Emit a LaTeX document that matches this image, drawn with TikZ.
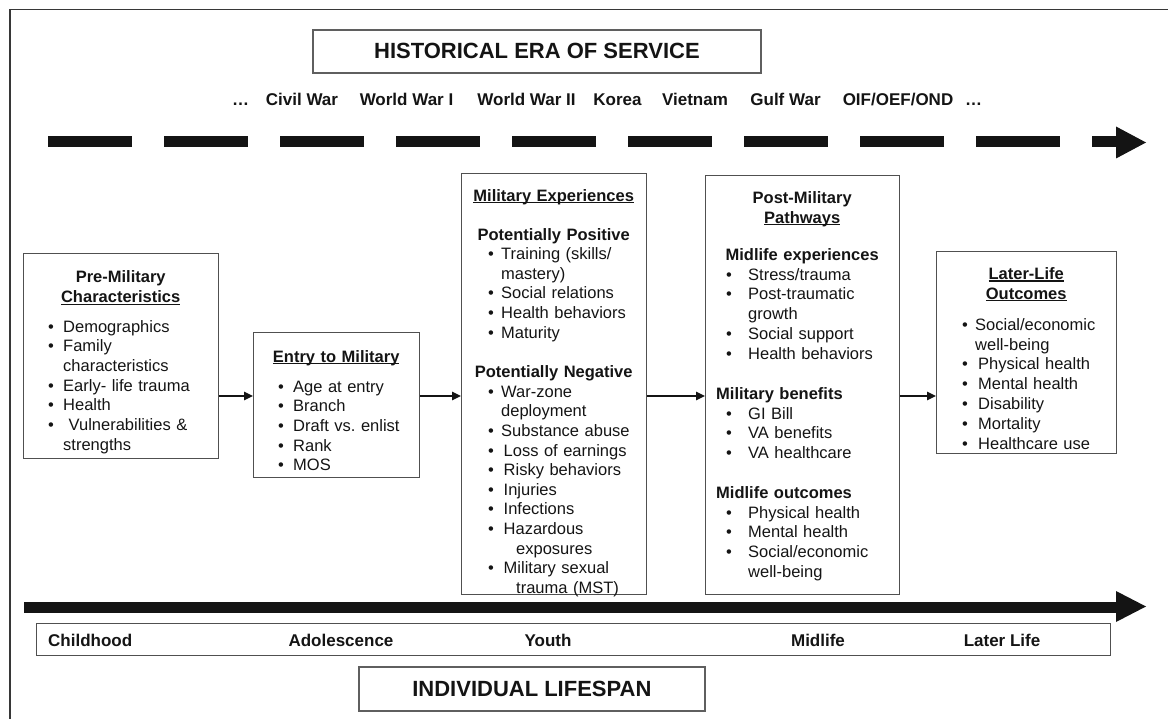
\documentclass[tikz,border=0pt]{standalone}
\usepackage{fontspec}
\setmainfont{Liberation Sans}
\usetikzlibrary{arrows.meta}
\definecolor{edge}{RGB}{80,80,80}
\definecolor{ink}{RGB}{20,20,20}
\definecolor{tgray}{RGB}{95,95,95}
\frenchspacing
\newcommand\myul[1]{\setbox0=\hbox{#1}\rlap{\rule[-2.4pt]{\wd0}{1.1pt}}\box0}
\newcommand\HL[1]{\par\noindent\makebox[\hsize]{\textbf{#1}\strut}}
\newcommand\HU[1]{\par\noindent\makebox[\hsize]{\textbf{\myul{#1}}\strut}}
\newcommand\BI[3]{\par\noindent\hspace*{#1pt}\makebox[#2pt][l]{\textbullet}#3\strut}
\newcommand\CL[2]{\par\noindent\hspace*{#1pt}#2\strut}
\newcommand\GAP[1]{\par\vspace{#1pt}}
\tikzset{
  boxst/.style={draw=edge, line width=1.3pt, anchor=north west, inner sep=0pt},
  txt/.style={anchor=north west, inner sep=0pt, text=ink},
  conn/.style={draw=ink, line width=1.3pt, -{Triangle[length=9pt,width=8.5pt]}},
  era/.style={font=\bfseries\fontsize{17}{20}\selectfont, anchor=base, inner sep=0pt, text=ink},
  titlebox/.style={draw=tgray, line width=1.8pt, anchor=north west, inner sep=0pt, text=ink, font=\bfseries\fontsize{22}{26}\selectfont},
  thick arrow/.style={draw=ink, line width=11pt},
}
\begin{document}
\begin{tikzpicture}[x=1pt,y=-1pt]
\useasboundingbox (0,0) rectangle (1168,719);
% outer frame (right and bottom edges lie outside the picture)
\draw[draw=ink!85, line width=1.5pt] (10,719) -- (10,9.5) -- (1168,9.5);

% historical era
\node[titlebox, minimum width=448pt, minimum height=43pt] (hist) at (312,29) {HISTORICAL ERA OF SERVICE};
\node[era] (e0) at (240.5,106) {…};
\node[era] (e1) at (302,106) {Civil War};
\node[era] (e2) at (406.5,106) {World War I};
\node[era] (e3) at (526.5,106) {World War II};
\node[era] (e4) at (617.5,106) {Korea};
\node[era] (e5) at (695,106) {Vietnam};
\node[era] (e6) at (785.5,106) {Gulf War};
\node[era] (e7) at (898,106) {OIF/OEF/OND};
\node[era] (e8) at (973.5,106) {…};
\coordinate (dstart) at (48,142);
\coordinate (dend) at (1116,142);
\coordinate (dtip) at (1146,142.5);
\draw[thick arrow, dash pattern=on 84pt off 32pt] (dstart) -- (dend);
\fill[ink] (1116,126.5) -- (dtip) -- (1116,158.5) -- cycle;

% boxes
\node[boxst, minimum width=195pt, minimum height=205pt] (pre) at (23,253) {};
\node[txt, text width=195pt, font=\fontsize{16.5}{19.7}\selectfont] (preT) at (23,262.7) {%
\HL{Pre-Military}%
\HU{Characteristics}%
\GAP{10.1}%
\BI{25}{15}{Demographics}%
\BI{25}{15}{Family}%
\CL{40}{characteristics}%
\BI{25}{15}{Early- life trauma}%
\BI{25}{15}{Health}%
\BI{25}{15}{\ Vulnerabilities \&}%
\CL{40}{strengths}};

\node[boxst, minimum width=166pt, minimum height=145pt] (entry) at (253,332) {};
\node[txt, text width=166pt, font=\fontsize{16.5}{19.7}\selectfont] (entryT) at (253,342.2) {%
\HU{Entry to Military}%
\GAP{10.3}%
\BI{25}{15}{Age at entry}%
\BI{25}{15}{Branch}%
\BI{25}{15}{Draft vs.\ enlist}%
\BI{25}{15}{Rank}%
\BI{25}{15}{MOS}};

\node[boxst, minimum width=185pt, minimum height=421pt] (milexp) at (461,173) {};
\node[txt, text width=185pt, font=\fontsize{16.5}{19.6}\selectfont] (milexpT) at (461,181.3) {%
\HU{Military Experiences}%
\GAP{19.4}%
\HL{Potentially Positive}%
\BI{27}{13}{Training (skills/}%
\CL{40}{mastery)}%
\BI{27}{13}{Social relations}%
\BI{27}{13}{Health behaviors}%
\BI{27}{13}{Maturity}%
\GAP{20}%
\HL{Potentially Negative}%
\BI{27}{13}{War-zone}%
\CL{40}{deployment}%
\BI{27}{13}{Substance abuse}%
\BI{27}{15.5}{Loss of earnings}%
\BI{27}{15.5}{Risky behaviors}%
\BI{27}{15.5}{Injuries}%
\BI{27}{15.5}{Infections}%
\BI{27}{15.5}{Hazardous}%
\CL{55}{exposures}%
\BI{27}{15.5}{Military sexual}%
\CL{55}{trauma (MST)}};

\node[boxst, minimum width=194pt, minimum height=419pt] (post) at (705,175) {};
\node[txt, text width=194pt, font=\fontsize{16.5}{19.9}\selectfont] (postT) at (705,183.1) {%
\HL{Post-Military}%
\HU{Pathways}%
\GAP{17.2}%
\HL{Midlife experiences}%
\BI{21}{22}{Stress/trauma}%
\BI{21}{22}{Post-traumatic}%
\CL{43}{growth}%
\BI{21}{22}{Social support}%
\BI{21}{22}{Health behaviors}%
\GAP{19.6}%
\CL{11}{\textbf{Military benefits}}%
\BI{21}{22}{GI Bill}%
\BI{21}{22}{VA benefits}%
\BI{21}{22}{VA healthcare}%
\GAP{19.4}%
\CL{11}{\textbf{Midlife outcomes}}%
\BI{21}{22}{Physical health}%
\BI{21}{22}{Mental health}%
\BI{21}{22}{Social/economic}%
\CL{43}{well-being}};

\node[boxst, minimum width=180pt, minimum height=202pt] (later) at (936,251) {};
\node[txt, text width=180pt, font=\fontsize{16.5}{19.9}\selectfont] (laterT) at (936,259.1) {%
\HU{Later-Life}%
\HU{Outcomes}%
\GAP{11.2}%
\BI{26}{13}{Social/economic}%
\CL{39}{well-being}%
\BI{26}{16}{Physical health}%
\BI{26}{16}{Mental health}%
\BI{26}{16}{Disability}%
\BI{26}{16}{Mortality}%
\BI{26}{16}{Healthcare use}};

% connectors
\coordinate (ay) at (0,396);
\draw[conn] (pre.east |- ay) -- (entry.west |- ay);
\draw[conn] (entry.east |- ay) -- (milexp.west |- ay);
\draw[conn] (milexp.east |- ay) -- (post.west |- ay);
\draw[conn] (post.east |- ay) -- (later.west |- ay);

% lifespan arrow
\coordinate (lstart) at (24,607.5);
\coordinate (lend) at (1116,607.5);
\coordinate (ltip) at (1146,606.5);
\draw[thick arrow] (lstart) -- (lend);
\fill[ink] (1116,591) -- (ltip) -- (1116,622) -- cycle;

\node[boxst, minimum width=1074pt, minimum height=32pt] (band) at (36,623) {};
\node[era, anchor=base west] (l1) at (48,646.5) {Childhood};
\node[era] (l2) at (341,646.5) {Adolescence};
\node[era] (l3) at (548,646.5) {Youth};
\node[era] (l4) at (818,646.5) {Midlife};
\node[era] (l5) at (1002,646.5) {Later Life};

\node[titlebox, minimum width=346pt, minimum height=44pt] (life) at (358,666) {INDIVIDUAL LIFESPAN};
\end{tikzpicture}
\end{document}
